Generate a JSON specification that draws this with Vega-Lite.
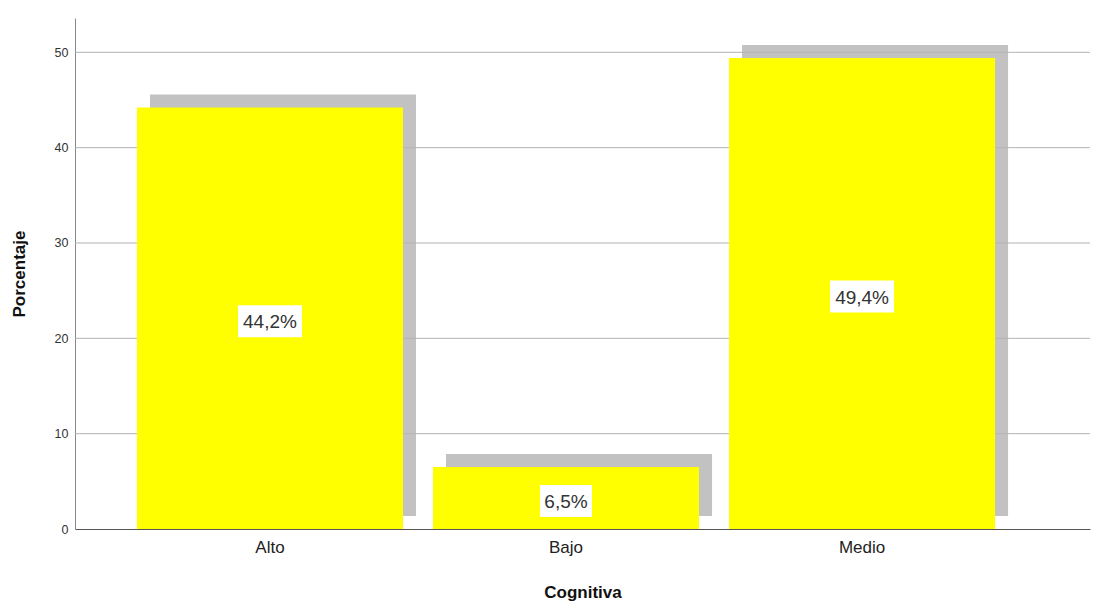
{
  "$schema": "https://vega.github.io/schema/vega-lite/v6.json",
  "width": 1015,
  "height": 511,
  "autosize": "none",
  "padding": {"left": 75, "top": 18, "right": 9, "bottom": 75},
  "background": "white",
  "config": {
    "view": {"stroke": null},
    "font": "Liberation Sans"
  },
  "datasets": {
    "bars": [
      {"Cognitiva": "Alto", "Porcentaje": 44.2, "label": "44,2%"},
      {"Cognitiva": "Bajo", "Porcentaje": 6.5, "label": "6,5%"},
      {"Cognitiva": "Medio", "Porcentaje": 49.4, "label": "49,4%"}
    ],
    "grid": [{"v": 10}, {"v": 20}, {"v": 30}, {"v": 40}, {"v": 50}]
  },
  "data": {"name": "bars"},
  "encoding": {
    "x": {
      "field": "Cognitiva",
      "type": "nominal",
      "sort": ["Alto", "Bajo", "Medio"],
      "scale": {"paddingInner": 0.1014, "paddingOuter": 0.265, "align": 0.395},
      "axis": {
        "title": "Cognitiva",
        "titleFont": "Liberation Sans",
        "titleFontSize": 17,
        "titleFontWeight": "bold",
        "titleColor": "#111",
        "titlePadding": 29,
        "labelAngle": 0,
        "labelFontSize": 17,
        "labelColor": "#222",
        "labelPadding": 10,
        "ticks": false,
        "domainColor": "#555",
        "domainWidth": 1
      }
    }
  },
  "layer": [
    {
      "mark": {"type": "bar", "color": "#c2c2c2", "xOffset": 13, "yOffset": -13},
      "encoding": {
        "y": {
          "field": "Porcentaje",
          "type": "quantitative",
          "scale": {"domain": [0, 53.6], "nice": false},
          "axis": {
            "title": "Porcentaje",
            "titleFont": "Liberation Sans",
            "titleFontSize": 17,
            "titleFontWeight": "bold",
            "titleColor": "#111",
            "titlePadding": 26,
            "values": [0, 10, 20, 30, 40, 50],
            "labelFontSize": 12.5,
            "labelColor": "#333",
            "labelPadding": 7,
            "ticks": false,
            "grid": false,
            "domainColor": "#888",
            "domainWidth": 1
          }
        }
      }
    },
    {
      "data": {"name": "grid"},
      "mark": {"type": "rule", "color": "#b4b4b4", "strokeWidth": 1},
      "encoding": {
        "x": null,
        "y": {"field": "v", "type": "quantitative"}
      }
    },
    {
      "mark": {"type": "bar", "color": "#ffff00"},
      "encoding": {
        "y": {"field": "Porcentaje", "type": "quantitative"}
      }
    },
    {
      "transform": [
        {"filter": "length(datum.label) > 4"},
        {"calculate": "datum.Porcentaje / 2", "as": "mid"}
      ],
      "mark": {
        "type": "point",
        "filled": true,
        "color": "white",
        "opacity": 1,
        "size": 4,
        "strokeWidth": 0,
        "shape": "M-32,-16H32V16H-32Z",
        "yOffset": 3
      },
      "encoding": {
        "y": {"field": "mid", "type": "quantitative"}
      }
    },
    {
      "transform": [
        {"filter": "length(datum.label) <= 4"},
        {"calculate": "datum.Porcentaje / 2", "as": "mid"}
      ],
      "mark": {
        "type": "point",
        "filled": true,
        "color": "white",
        "opacity": 1,
        "size": 4,
        "strokeWidth": 0,
        "shape": "M-26,-16H26V16H-26Z",
        "yOffset": 3
      },
      "encoding": {
        "y": {"field": "mid", "type": "quantitative"}
      }
    },
    {
      "transform": [{"calculate": "datum.Porcentaje / 2", "as": "mid"}],
      "mark": {
        "type": "text",
        "fontSize": 19,
        "color": "#333",
        "baseline": "middle",
        "align": "center",
        "yOffset": 4
      },
      "encoding": {
        "y": {"field": "mid", "type": "quantitative"},
        "text": {"field": "label"}
      }
    }
  ]
}
